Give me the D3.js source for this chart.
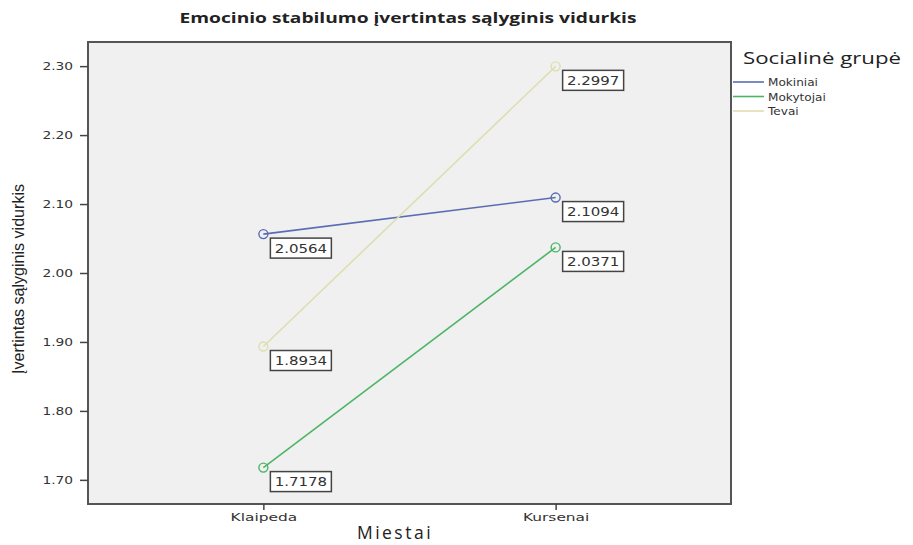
<!DOCTYPE html>
<html><head><meta charset="utf-8">
<script src="https://cdn.jsdelivr.net/npm/d3@7"></script>
<style>body{margin:0;background:#fff}svg{display:block}</style>
</head><body><svg id="c" width="913" height="545"></svg>
<script>
const cities = ["Klaipeda", "Kursenai"];
const groups = ["Mokiniai", "Mokytojai", "Tevai"];
const mokiniai = [2.0564, 2.1094];
const mokytojai = [1.7178, 2.0371];
const tevai = [1.8934, 2.2997];
const yTicks = [1.70, 1.80, 1.90, 2.00, 2.10, 2.20, 2.30];
const colors = ["#5a6db3", "#4cb565", "#dedeb2"];
const seriesValues = [mokiniai, mokytojai, tevai];

const svg = d3.select("#c");
const L = 88, T = 42, R = 731, B = 504;
const x = d3.scalePoint().domain(cities).range([L, R]).padding(0.6);
const y = d3.scaleLinear().domain([1.665, 2.335]).range([B, T]);
const FONT = "DejaVu Sans, Verdana, sans-serif";

svg.append("rect").attr("x", L).attr("y", T).attr("width", R - L).attr("height", B - T)
  .attr("fill", "#f0f0f0").attr("stroke", "#555").attr("stroke-width", 2);

const ySX = 1.25;
const ya = svg.append("g").attr("transform", `translate(${L},0)`)
  .call(d3.axisLeft(y).tickValues(yTicks).tickFormat(d3.format(".2f")).tickSize(8).tickPadding(7));
ya.select(".domain").remove();
ya.selectAll("line").attr("stroke", "#444").attr("stroke-width", 1.5);
ya.selectAll("text").attr("font-family", FONT).attr("font-size", 11).attr("fill", "#333")
  .attr("x", -15 / ySX).attr("transform", `scale(${ySX},1)`);

const xSX = 1.4;
const xa = svg.append("g").attr("transform", `translate(0,${B})`)
  .call(d3.axisBottom(x).tickSize(6).tickPadding(3));
xa.select(".domain").remove();
xa.selectAll("line").attr("stroke", "#444").attr("stroke-width", 1.5);
xa.selectAll("text").attr("font-family", FONT).attr("font-size", 11).attr("fill", "#333")
  .attr("transform", `scale(${xSX},1)`);

const line = d3.line().x((d, i) => x(cities[i])).y(d => y(d));
groups.forEach((g, gi) => {
  const vals = seriesValues[gi];
  svg.append("path").datum(vals).attr("d", line).attr("fill", "none")
    .attr("stroke", colors[gi]).attr("stroke-width", 1.6);
  vals.forEach((v, i) => {
    const px = x(cities[i]), py = y(v);
    svg.append("circle").attr("cx", px).attr("cy", py).attr("r", 4.5)
      .attr("fill", "none").attr("stroke", colors[gi]).attr("stroke-width", 1.4);
    svg.append("rect").attr("x", px + 7).attr("y", py + 4).attr("width", 61).attr("height", 20)
      .attr("fill", "#fff").attr("stroke", "#444").attr("stroke-width", 1.5);
    svg.append("text").attr("transform", `translate(${px + 37.5},${py + 18.5}) scale(1.25,1)`)
      .attr("text-anchor", "middle")
      .attr("font-family", FONT).attr("font-size", 12).attr("fill", "#333")
      .text(d3.format(".4f")(v));
  });
});

svg.append("text").attr("x", 408).attr("y", 23).attr("text-anchor", "middle")
  .attr("font-family", "Open Sans, DejaVu Sans, sans-serif").attr("font-weight", "bold").attr("font-size", 14.5)
  .attr("textLength", 457).attr("lengthAdjust", "spacingAndGlyphs")
  .attr("fill", "#222").text("Emocinio stabilumo įvertintas sąlyginis vidurkis");

svg.append("text").attr("transform", "translate(24,279) rotate(-90)").attr("text-anchor", "middle")
  .attr("font-family", "Liberation Sans Narrow, Liberation Sans, Arial, sans-serif").attr("font-size", 16)
  .attr("textLength", 190).attr("lengthAdjust", "spacingAndGlyphs")
  .attr("fill", "#222").text("Įvertintas sąlyginis vidurkis");

svg.append("text").attr("x", 395).attr("y", 539).attr("text-anchor", "middle")
  .attr("font-family", "Open Sans, DejaVu Sans, sans-serif").attr("font-size", 17.5)
  .attr("letter-spacing", 2.5)
  .attr("fill", "#222").text("Miestai");

svg.append("text").attr("x", 743).attr("y", 64)
  .attr("font-family", "Open Sans, DejaVu Sans, sans-serif").attr("font-size", 16.5)
  .attr("textLength", 158).attr("lengthAdjust", "spacingAndGlyphs")
  .attr("fill", "#222").text("Socialinė grupė");

groups.forEach((g, gi) => {
  const ly = 82 + gi * 14.5;
  svg.append("line").attr("x1", 733).attr("x2", 764).attr("y1", ly).attr("y2", ly)
    .attr("stroke", colors[gi]).attr("stroke-width", 1.6);
  svg.append("text").attr("transform", `translate(768,${ly + 4}) scale(1.1,1)`)
    .attr("font-family", FONT).attr("font-size", 11).attr("fill", "#333").text(g);
});
</script></body></html>
